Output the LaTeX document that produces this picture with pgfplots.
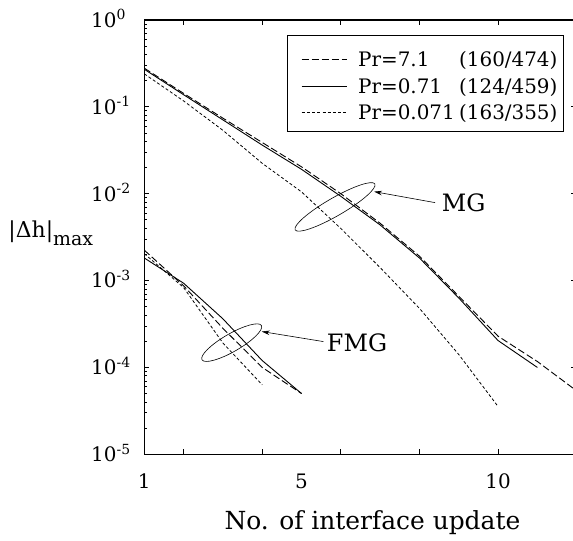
\documentclass[border=0pt]{standalone}
\usepackage{fontspec}
\setmainfont{DejaVu Serif}
\usepackage{pgfplots}
\pgfplotsset{compat=1.18}
\usetikzlibrary{shapes.geometric,arrows.meta,calc}

\begin{document}
\begin{tikzpicture}
\begin{axis}[
  name=ax,
  scale only axis,
  width=431.2bp, height=434.3bp,
  xmin=1, xmax=11.97,
  ymode=log, ymin=1e-5, ymax=1,
  axis line style={line width=1.2bp},
  every tick/.style={line width=0.8bp, black},
  tick align=inside,
  major tick length=5bp,
  minor tick length=2.5bp,
  xtick={2,4,6,8,10},
  xticklabels={},
  extra x ticks={1,5,10},
  extra x tick labels={1,5,10},
  extra x tick style={major tick length=0pt},
  xticklabel style={font=\fontsize{20}{24}\selectfont, anchor=base, yshift=-33.7bp},
  ytick={1e-5,1e-4,1e-3,1e-2,1e-1,1},
  yticklabels={10\textsuperscript{-5},10\textsuperscript{-4},10\textsuperscript{-3},10\textsuperscript{-2},10\textsuperscript{-1},10\textsuperscript{0}},
  minor ytick={2e-5,3e-5,4e-5,5e-5,6e-5,7e-5,8e-5,9e-5,2e-4,3e-4,4e-4,5e-4,6e-4,7e-4,8e-4,9e-4,2e-3,3e-3,4e-3,5e-3,6e-3,7e-3,8e-3,9e-3,2e-2,3e-2,4e-2,5e-2,6e-2,7e-2,8e-2,9e-2,2e-1,3e-1,4e-1,5e-1,6e-1,7e-1,8e-1,9e-1},
  yticklabel style={font=\fontsize{20}{24}\selectfont, anchor=base west, inner sep=0pt, xshift=-53.3bp, yshift=-7.3bp},
  xlabel={No. of interface update},
  xlabel style={at={(axis description cs:0.529,0)}, anchor=base, yshift=-74.7bp, font=\fontsize{25}{30}\selectfont, inner sep=0pt},
  ylabel={|Δh|\raisebox{-8bp}{\fontsize{19}{22}\selectfont max}},
  ylabel style={rotate=-90, at={(axis description cs:-0.3154,0.5)}, anchor=base west, font=\fontsize{22}{26}\selectfont, inner sep=0pt},
  legend style={at={(axis description cs:0.974,0.9655)}, anchor=north east, draw=black, line width=1bp, inner sep=6.3bp, row sep=-3.5bp, column sep=11bp, font=\fontsize{20}{24}\selectfont, nodes={inner sep=0pt, text height=25bp, text depth=5bp}, cells={anchor=west}},
  legend image code/.code={\path (0bp,0bp); \draw[#1] (7.7bp,-2.7bp) -- (52.7bp,-2.7bp);},
]
% MG curves
\addplot[black, line width=0.9bp, dash pattern=on 7bp off 3bp] coordinates {
 (1,0.279) (2,0.143) (3,0.0741) (4,0.0389) (5,0.0204) (6,0.0100) (7,0.00457) (8,0.00191) (9,6.61e-4) (10,2.29e-4) (11,1.17e-4) (12,5.37e-5)};
\addlegendentry{\makebox[101bp][l]{Pr=7.1}(160/474)}
\addplot[black, line width=0.9bp] coordinates {
 (1,0.271) (2,0.138) (3,0.0708) (4,0.0363) (5,0.0191) (6,0.00933) (7,0.00437) (8,0.00182) (9,6.31e-4) (10,2.04e-4) (11,1.0e-4)};
\addlegendentry{\makebox[101bp][l]{Pr=0.71}(124/459)}
\addplot[black, line width=0.8bp, dash pattern=on 3bp off 2.2bp] coordinates {
 (1,0.240) (2,0.117) (3,0.0537) (4,0.0224) (5,0.0105) (6,0.00398) (7,0.00141) (8,4.79e-4) (9,1.41e-4) (10,3.55e-5)};
\addlegendentry{\makebox[101bp][l]{Pr=0.071}(163/355)}
% FMG curves
\addplot[forget plot, black, line width=0.9bp, dash pattern=on 7bp off 3bp] coordinates {
 (1,2.24e-3) (2,8.71e-4) (3,2.82e-4) (4,1.0e-4) (5,5.01e-5)};
\addplot[forget plot, black, line width=0.9bp] coordinates {
 (1,1.82e-3) (2,9.33e-4) (3,3.63e-4) (4,1.20e-4) (5,5.01e-5)};
\addplot[forget plot, black, line width=0.8bp, dash pattern=on 3bp off 2.2bp] coordinates {
 (1,2.04e-3) (2,8.32e-4) (3,1.91e-4) (4,6.31e-5)};
% annotations
\node[draw, ellipse, line width=0.6bp, minimum width=92bp, minimum height=18bp, inner sep=0pt, rotate=30] at (axis cs:5.852,7.05e-3) {};
\node[draw, ellipse, line width=0.6bp, minimum width=68.6bp, minimum height=17.8bp, inner sep=0pt, rotate=30] at (axis cs:3.224,1.93e-4) {};
\draw[line width=0.6bp, -{Stealth[length=8bp,width=4.5bp]}] (axis cs:8.397,7.9e-3) -- (axis cs:6.845,1.057e-2);
\draw[line width=0.6bp, -{Stealth[length=8bp,width=4.5bp]}] (axis cs:5.555,1.986e-4) -- (axis cs:3.987,2.59e-4);
\node[anchor=base west, inner sep=0pt, font=\fontsize{24}{28}\selectfont] at (axis cs:8.567,6.22e-3) {MG};
\node[anchor=base west, inner sep=0pt, font=\fontsize{24}{28}\selectfont] at (axis cs:5.641,1.524e-4) {FMG};
\end{axis}
\pgfresetboundingbox
\path ($(ax.south west)+(-144.3bp,-86.7bp)$) rectangle ($(ax.north east)+(-2.5bp,20bp)$);
\end{tikzpicture}
\end{document}
